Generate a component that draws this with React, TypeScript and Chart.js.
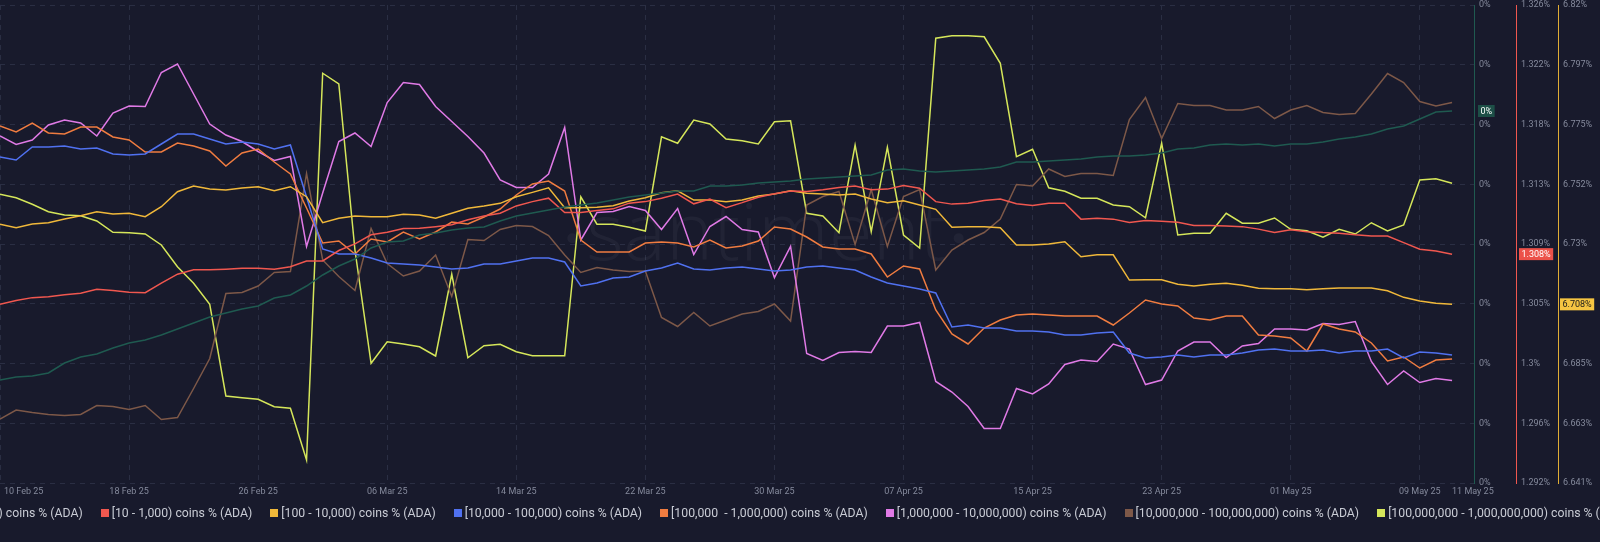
import React, { useEffect, useRef } from "react";
import { Chart, registerables } from "chart.js";

Chart.register(...registerables);

// x tick labels (day index from 10 Feb 25)
const tickIndices = [0, 8, 16, 24, 32, 40, 48, 56, 64, 72, 80, 88, 90];
const tickLabels = ["10 Feb 25", "18 Feb 25", "26 Feb 25", "06 Mar 25", "14 Mar 25", "22 Mar 25", "30 Mar 25", "07 Apr 25", "15 Apr 25", "23 Apr 25", "01 May 25", "09 May 25", "11 May 25"];

const seriesNames = [
  "[0 - 10) coins % (ADA)",
  "[10 - 1,000) coins % (ADA)",
  "[100 - 10,000) coins % (ADA)",
  "[10,000 - 100,000) coins % (ADA)",
  "[100,000  - 1,000,000) coins % (ADA)",
  "[1,000,000 - 10,000,000) coins % (ADA)",
  "[10,000,000 - 100,000,000) coins % (ADA)",
  "[100,000,000 - 1,000,000,000) coins % (ADA)",
];
const seriesColors = ["#1f5a50", "#f0574f", "#f0b83a", "#5071f0", "#f07c40", "#e07ae6", "#7d5848", "#d5e65a"];

const green = [
  0.000103, 0.000106, 0.000107, 0.00011, 0.00012, 0.000126, 0.000129, 0.000135, 0.00014, 0.000143,
  0.000148, 0.000154, 0.00016, 0.000166, 0.00017, 0.000174, 0.000177, 0.000185, 0.000188, 0.000197,
  0.000208, 0.000217, 0.000224, 0.000235, 0.000241, 0.000242, 0.000248, 0.00025, 0.000253, 0.000255,
  0.000256, 0.000262, 0.000267, 0.00027, 0.000273, 0.000276, 0.000278, 0.00028, 0.000283, 0.000286,
  0.000288, 0.00029, 0.000292, 0.000292, 0.000297, 0.000297, 0.000298, 0.0003, 0.000301, 0.000302,
  0.000304, 0.000305, 0.000306, 0.000307, 0.000308, 0.000313, 0.000314, 0.000312, 0.000311, 0.000312,
  0.000313, 0.000314, 0.000316, 0.000321, 0.000321, 0.000322, 0.000323, 0.000324, 0.000326, 0.000327,
  0.000327, 0.000328, 0.00033, 0.000334, 0.000335, 0.000338, 0.000339, 0.000338, 0.000339, 0.000337,
  0.000339, 0.000339, 0.000341, 0.000344, 0.000346, 0.000349, 0.000354, 0.000357, 0.000364, 0.000371,
  0.000372,
];
const red = [
  1.30467, 1.30493, 1.30514, 1.30521, 1.30534, 1.30546, 1.30575, 1.30565, 1.30553, 1.3055,
  1.30618, 1.30683, 1.30714, 1.30714, 1.30719, 1.30726, 1.30726, 1.30719, 1.30737, 1.30778,
  1.30778, 1.30853, 1.30901, 1.30966, 1.30985, 1.31011, 1.31014, 1.31025, 1.31038, 1.31074,
  1.31102, 1.31122, 1.31174, 1.31205, 1.3123, 1.31126, 1.31126, 1.31141, 1.31153, 1.31194,
  1.31205, 1.3123, 1.31259, 1.31189, 1.31223, 1.31162, 1.31198, 1.31237, 1.31261, 1.31282,
  1.31277, 1.3129, 1.31306, 1.31318, 1.3129, 1.31295, 1.31321, 1.31302, 1.31205, 1.31187,
  1.31194, 1.31213, 1.31223, 1.31189, 1.31177, 1.31194, 1.31194, 1.31079, 1.31086, 1.31079,
  1.31054, 1.31069, 1.31064, 1.31057, 1.31033, 1.31033, 1.3103, 1.31025, 1.31007, 1.30982,
  1.31002, 1.30989, 1.30982, 1.30978, 1.30966, 1.30958, 1.30958, 1.3091, 1.30863, 1.3085,
  1.30827,
];
const yellow = [
  6.73745, 6.73618, 6.73757, 6.73805, 6.73944, 6.74067, 6.74217, 6.74131, 6.74157, 6.7403,
  6.74404, 6.74965, 6.75178, 6.75066, 6.75028, 6.75103, 6.75152, 6.75002, 6.75152, 6.74778,
  6.73805, 6.7397, 6.74056, 6.7403, 6.7403, 6.74119, 6.74093, 6.7397, 6.74157, 6.74344,
  6.7443, 6.74531, 6.74778, 6.74942, 6.75114, 6.74366, 6.74366, 6.74381, 6.74441, 6.74617,
  6.7474, 6.74927, 6.75002, 6.74654, 6.74654, 6.74591, 6.74654, 6.74804, 6.74879, 6.75002,
  6.74905, 6.74879, 6.74841, 6.74879, 6.74692, 6.74553, 6.74628, 6.74467, 6.74306, 6.73633,
  6.73656, 6.73656, 6.73618, 6.72971, 6.72971, 6.73009, 6.73095, 6.72534, 6.72608, 6.72608,
  6.71662, 6.71673, 6.71673, 6.71501, 6.71438, 6.71501, 6.71539, 6.71464, 6.71352, 6.71337,
  6.71337, 6.71299, 6.71337, 6.71363, 6.71363, 6.71363, 6.71262, 6.71015, 6.70877, 6.70791,
  6.70753,
];
const blue = [
  4.226, 4.223, 4.236, 4.236, 4.237, 4.234, 4.235, 4.229, 4.228, 4.229,
  4.239, 4.249, 4.249, 4.244, 4.239, 4.241, 4.239, 4.234, 4.238, 4.186,
  4.134, 4.129, 4.129, 4.125, 4.12, 4.119, 4.118, 4.116, 4.114, 4.115,
  4.119, 4.119, 4.122, 4.125, 4.125, 4.121, 4.097, 4.1, 4.105, 4.106,
  4.112, 4.115, 4.12, 4.114, 4.113, 4.115, 4.116, 4.114, 4.112, 4.113,
  4.116, 4.117, 4.115, 4.113, 4.106, 4.1, 4.097, 4.094, 4.09, 4.056,
  4.058, 4.055, 4.055, 4.052, 4.052, 4.051, 4.048, 4.048, 4.05, 4.051,
  4.03, 4.025, 4.026, 4.028, 4.026, 4.028, 4.028, 4.03, 4.033, 4.034,
  4.032, 4.032, 4.033, 4.03, 4.032, 4.032, 4.034, 4.025, 4.031, 4.03,
  4.028,
];
const orange = [
  7.557, 7.551, 7.56, 7.55, 7.549, 7.556, 7.556, 7.546, 7.543, 7.531,
  7.531, 7.54, 7.537, 7.532, 7.517, 7.53, 7.534, 7.521, 7.509, 7.475,
  7.44, 7.442, 7.429, 7.444, 7.441, 7.451, 7.444, 7.451, 7.461, 7.459,
  7.466, 7.474, 7.488, 7.499, 7.502, 7.492, 7.443, 7.431, 7.431, 7.431,
  7.44, 7.441, 7.44, 7.436, 7.443, 7.435, 7.437, 7.442, 7.456, 7.454,
  7.446, 7.436, 7.434, 7.434, 7.429, 7.406, 7.417, 7.414, 7.373, 7.349,
  7.339, 7.355, 7.363, 7.368, 7.369, 7.368, 7.367, 7.367, 7.367, 7.358,
  7.37, 7.383, 7.379, 7.377, 7.365, 7.363, 7.367, 7.367, 7.348, 7.347,
  7.345, 7.332, 7.359, 7.354, 7.351, 7.34, 7.322, 7.326, 7.315, 7.323,
  7.324,
];
const pink = [
  13.194, 13.177, 13.186, 13.216, 13.226, 13.22, 13.194, 13.24, 13.254, 13.253,
  13.321, 13.338, 13.278, 13.218, 13.196, 13.183, 13.163, 13.145, 13.153, 12.973,
  13.08, 13.183, 13.2, 13.173, 13.261, 13.301, 13.297, 13.253, 13.223, 13.193,
  13.16, 13.106, 13.091, 13.091, 13.118, 13.211, 12.986, 13.041, 13.043, 13.053,
  13.045, 13.007, 13.049, 12.957, 13.013, 13.033, 13.007, 13.002, 12.911, 12.973,
  12.759, 12.745, 12.761, 12.763, 12.761, 12.814, 12.814, 12.821, 12.703, 12.682,
  12.653, 12.609, 12.609, 12.689, 12.678, 12.698, 12.737, 12.746, 12.743, 12.778,
  12.768, 12.697, 12.706, 12.764, 12.782, 12.782, 12.751, 12.774, 12.779, 12.808,
  12.808, 12.806, 12.819, 12.817, 12.823, 12.743, 12.697, 12.724, 12.701, 12.709,
  12.705,
];
const brown = [
  26.628, 26.646, 26.641, 26.637, 26.635, 26.637, 26.655, 26.653, 26.647, 26.655,
  26.627, 26.631, 26.689, 26.749, 26.879, 26.881, 26.894, 26.921, 26.923, 27.119,
  26.946, 26.913, 26.885, 27.009, 26.939, 26.914, 26.924, 26.956, 26.873, 26.987,
  26.985, 27.007, 27.015, 27.013, 26.995, 26.956, 26.921, 26.931, 26.926, 26.923,
  26.924, 26.831, 26.813, 26.841, 26.814, 26.826, 26.838, 26.843, 26.858, 26.824,
  27.056, 27.073, 27.083, 26.977, 27.087, 26.973, 27.073, 27.087, 26.926, 26.966,
  26.986, 27.001, 27.028, 27.097, 27.094, 27.128, 27.113, 27.119, 27.119, 27.115,
  27.227, 27.271, 27.189, 27.259, 27.255, 27.255, 27.246, 27.246, 27.253, 27.229,
  27.246, 27.255, 27.241, 27.237, 27.239, 27.278, 27.319, 27.301, 27.263, 27.254,
  27.261,
];
const lime = [
  39.155, 39.141, 39.115, 39.085, 39.072, 39.069, 39.048, 39.003, 39.001, 38.996,
  38.952, 38.865, 38.799, 38.715, 38.348, 38.341, 38.335, 38.305, 38.299, 38.092,
  39.639, 39.596, 38.932, 38.479, 38.565, 38.556, 38.545, 38.508, 38.835, 38.501,
  38.549, 38.555, 38.525, 38.509, 38.509, 38.509, 39.145, 39.035, 39.035, 39.023,
  39.008, 39.385, 39.359, 39.452, 39.436, 39.376, 39.369, 39.356, 39.445, 39.449,
  39.079, 39.068, 39.001, 39.352, 39.005, 39.343, 38.992, 38.94, 39.779, 39.789,
  39.789, 39.785, 39.679, 39.305, 39.335, 39.181, 39.167, 39.139, 39.139, 39.112,
  39.105, 39.061, 39.359, 38.992, 38.999, 38.999, 39.079, 39.039, 39.039, 39.06,
  39.015, 39.009, 38.983, 39.015, 38.996, 39.041, 39.008, 39.032, 39.212, 39.217,
  39.199,
];

const seriesData = [green, red, yellow, blue, orange, pink, brown, lime];
const axisIds = ["yG", "yR", "yY", "yB", "yO", "yP", "yBr", "yL"];
// axis ranges [min, max]
const axisRanges: Record<string, [number, number]> = {
  yG: [0, 0.000478],
  yR: [1.2918, 1.3262],
  yY: [6.6407, 6.8195],
  yB: [3.9, 4.378],
  yO: [7.2, 7.678],
  yP: [12.5, 13.456],
  yBr: [26.5, 27.456],
  yL: [38.0, 39.912],
};

const BG = "#181a2c";
const GRID = "#2a2e43";
const TICK = "#858a9c";
const FONT = "Roboto, 'Noto Sans', sans-serif";

const fmt = (v: number) => Math.round(v * 1000 + 1e-6) / 1000 + "%";

const nineTicks = (s: any) => {
  const out = [];
  for (let k = 0; k <= 8; k++) out.push({ value: s.min + ((s.max - s.min) * k) / 8 });
  s.ticks = out;
};

const watermarkPlugin = {
  id: "watermark",
  beforeDatasetsDraw(chart: any) {
    const { ctx, chartArea } = chart;
    const cx = chartArea.left + chartArea.width * 0.52;
    const cy = chartArea.top + chartArea.height * 0.534;
    ctx.save();
    ctx.fillStyle = "rgba(255,255,255,0.045)";
    ctx.font = `300 80px 'Open Sans', sans-serif`;
    ctx.textAlign = "center";
    ctx.textBaseline = "alphabetic";
    ctx.fillText("santiment", cx, cy);
    const w = ctx.measureText("santiment").width;
    ctx.beginPath();
    ctx.arc(cx - w / 2 - 14, cy - 22, 5, 0, Math.PI * 2);
    ctx.arc(cx + w / 2 + 12, cy - 22, 5, 0, Math.PI * 2);
    ctx.fill();
    ctx.restore();
  },
};

const xLabelPlugin = {
  id: "xLabels",
  afterDraw(chart: any) {
    const { ctx } = chart;
    const xs = chart.scales.x;
    const y = chart.chartArea.bottom + 9;
    ctx.save();
    ctx.font = `9px ${FONT}`;
    ctx.fillStyle = TICK;
    ctx.textBaseline = "middle";
    tickIndices.forEach((idx, k) => {
      const px = xs.getPixelForValue(idx);
      if (k === 0) {
        ctx.textAlign = "left";
        ctx.fillText(tickLabels[k], px + 4, y);
      } else if (k === tickIndices.length - 1) {
        ctx.textAlign = "left";
        ctx.fillText(tickLabels[k], px, y);
      } else {
        ctx.textAlign = "center";
        ctx.fillText(tickLabels[k], px, y);
      }
    });
    ctx.restore();
  },
};

const badges = [
  { axis: "yG", data: green, bg: "#1d4f47", fg: "#ffffff", dx: 4 },
  { axis: "yR", data: red, bg: "#ec5149", fg: "#ffffff", dx: 3 },
  { axis: "yY", data: yellow, bg: "#f5c542", fg: "#1a1a1a", dx: 2 },
];

const badgePlugin = {
  id: "badges",
  afterDraw(chart: any) {
    const { ctx } = chart;
    ctx.save();
    ctx.font = `9px ${FONT}`;
    ctx.textBaseline = "middle";
    ctx.textAlign = "left";
    badges.forEach((b) => {
      const s = chart.scales[b.axis];
      const v = b.data[b.data.length - 1];
      const y = s.getPixelForValue(v);
      const txt = fmt(v);
      const w = ctx.measureText(txt).width + 5;
      ctx.fillStyle = b.bg;
      ctx.fillRect(s.left + b.dx, y - 6, w, 12);
      ctx.fillStyle = b.fg;
      ctx.fillText(txt, s.left + b.dx + 2.5, y + 0.5);
    });
    ctx.restore();
  },
};

export default function App() {
  const ref = useRef<HTMLCanvasElement>(null);

  useEffect(() => {
    if (!ref.current) return;
    const datasets = seriesData.map((arr, i) => ({
      label: seriesNames[i],
      data: arr.map((v, j) => ({ x: j, y: v })),
      borderColor: seriesColors[i],
      backgroundColor: seriesColors[i],
      borderWidth: 1.5,
      pointRadius: 0,
      tension: 0,
      yAxisID: axisIds[i],
    }));

    const visibleAxis = (id: string, color: string, weight: number, grid: boolean) => ({
      type: "linear" as const,
      position: "right" as const,
      weight,
      min: axisRanges[id][0],
      max: axisRanges[id][1],
      afterBuildTicks: nineTicks,
      afterFit: (s: any) => {
        s.width = 42;
        s.paddingTop = 0;
        s.paddingBottom = 0;
      },
      grid: { display: grid, color: GRID, drawTicks: false, drawOnChartArea: grid },
      border: { display: true, color, width: 1, dash: [5, 5] },
      ticks: {
        color: TICK,
        padding: 5,
        font: { size: 9, family: FONT },
        callback: (v: any) => fmt(Number(v)),
      },
    });
    const hiddenAxis = (id: string) => ({
      type: "linear" as const,
      display: false,
      min: axisRanges[id][0],
      max: axisRanges[id][1],
    });

    const chart = new Chart(ref.current, {
      type: "line",
      data: { datasets },
      options: {
        animation: false,
        responsive: true,
        maintainAspectRatio: false,
        layout: { padding: { top: 5, bottom: 59, left: 0, right: 0 } },
        plugins: { legend: { display: false }, tooltip: { enabled: false } },
        scales: {
          x: {
            type: "linear",
            min: 0,
            max: 91.36,
            afterBuildTicks: (s: any) => {
              s.ticks = tickIndices.slice(0, -1).map((v) => ({ value: v }));
            },
            afterFit: (s: any) => {
              s.paddingLeft = 0;
              s.paddingRight = 0;
            },
            grid: { color: GRID, drawTicks: false },
            border: { display: false, dash: [5, 5] },
            ticks: { display: false },
          },
          yG: visibleAxis("yG", "#1f5a50", 0, true),
          yR: visibleAxis("yR", "#f0574f", 1, false),
          yY: visibleAxis("yY", "#e0ad35", 2, false),
          yB: hiddenAxis("yB"),
          yO: hiddenAxis("yO"),
          yP: hiddenAxis("yP"),
          yBr: hiddenAxis("yBr"),
          yL: hiddenAxis("yL"),
        } as any,
      },
      plugins: [watermarkPlugin, xLabelPlugin, badgePlugin],
    });
    return () => chart.destroy();
  }, []);

  return (
    <div style={{ position: "fixed", left: 0, top: 0, width: 1600, height: 542, background: BG, overflow: "hidden" }}>
      <canvas ref={ref} />
      <div
        style={{
          position: "absolute",
          left: -19,
          top: 503,
          width: 1620,
          height: 20,
          display: "flex",
          justifyContent: "center",
          alignItems: "center",
          gap: 18,
          overflow: "hidden",
          whiteSpace: "pre",
          fontFamily: FONT,
          fontSize: 12.25,
          color: "#c9ccd5",
        }}
      >
        {seriesNames.map((n, i) => (
          <div key={n} style={{ display: "flex", alignItems: "center", gap: 3, flex: "none" }}>
            <span style={{ width: 8, height: 8, background: seriesColors[i], display: "inline-block" }} />
            <span>{n}</span>
          </div>
        ))}
      </div>
    </div>
  );
}
